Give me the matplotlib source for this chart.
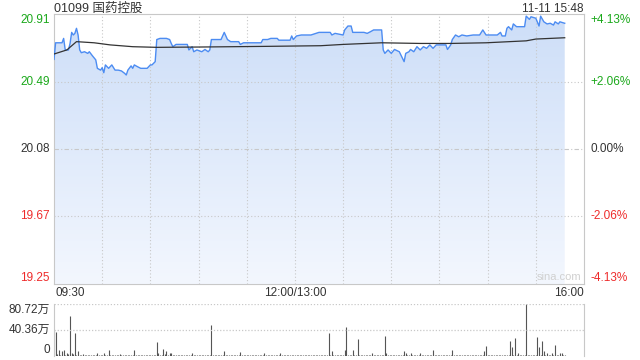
import numpy as np
import matplotlib
matplotlib.use("Agg")
import matplotlib.pyplot as plt
from matplotlib.colors import LinearSegmentedColormap

plt.rcParams['font.family'] = ['Liberation Sans', 'Noto Sans CJK SC', 'DejaVu Sans']

# --- data (minute index from 09:30, lunch break removed) ---
price_t = [0, 1, 5, 6, 7, 9, 10, 11, 12, 13, 14, 15, 16, 17, 19, 21, 22, 24, 26, 27,
           29, 30, 31, 32, 34, 36, 38, 40, 42, 44, 45, 46, 48, 49, 50, 52, 54, 58, 60, 61,
           63, 64, 66, 70, 72, 73, 74, 76, 83, 84, 86, 87, 89, 92, 94, 96, 97, 98, 104, 106,
           108, 110, 115, 116, 118, 129, 130, 133, 135, 139, 140, 147, 148, 149, 151, 154, 160, 165, 172, 173,
           175, 180, 181, 183, 185, 186, 193, 195, 197, 199, 204, 205, 206, 208, 210, 212, 215, 218, 219, 221,
           222, 224, 226, 228, 230, 232, 234, 236, 238, 244, 245, 247, 248, 250, 252, 254, 257, 261, 265, 267,
           269, 276, 278, 279, 281, 282, 283, 285, 286, 288, 293, 294, 296, 297, 300, 302, 303, 305, 307, 309,
           311, 312, 314, 315, 318]
price_v = [20.631, 20.733, 20.733, 20.760, 20.689, 20.689, 20.729, 20.797, 20.781, 20.791, 20.822, 20.781, 20.689, 20.672, 20.678, 20.668, 20.678, 20.652, 20.628, 20.576,
           20.565, 20.580, 20.549, 20.597, 20.576, 20.597, 20.565, 20.565, 20.560, 20.545, 20.535, 20.565, 20.591, 20.576, 20.597, 20.586, 20.576, 20.576, 20.597, 20.597,
           20.617, 20.753, 20.760, 20.760, 20.753, 20.729, 20.709, 20.723, 20.723, 20.689, 20.709, 20.678, 20.689, 20.678, 20.692, 20.678, 20.689, 20.753, 20.753, 20.797,
           20.753, 20.740, 20.740, 20.723, 20.733, 20.733, 20.753, 20.753, 20.760, 20.760, 20.749, 20.749, 20.775, 20.753, 20.775, 20.781, 20.781, 20.797, 20.797, 20.781,
           20.791, 20.781, 20.812, 20.836, 20.836, 20.797, 20.797, 20.791, 20.801, 20.812, 20.812, 20.689, 20.668, 20.689, 20.668, 20.692, 20.678, 20.617, 20.668, 20.678,
           20.692, 20.678, 20.709, 20.689, 20.709, 20.699, 20.720, 20.699, 20.720, 20.720, 20.692, 20.720, 20.753, 20.781, 20.770, 20.781, 20.775, 20.781, 20.781, 20.812,
           20.781, 20.781, 20.797, 20.775, 20.775, 20.822, 20.832, 20.812, 20.849, 20.832, 20.832, 20.897, 20.877, 20.893, 20.884, 20.836, 20.897, 20.862, 20.849, 20.853,
           20.842, 20.862, 20.849, 20.862, 20.853]

avg_t = [0, 8, 14, 25, 35, 49, 64, 91, 132, 166, 180, 204, 228, 247, 269, 294, 300, 318]
avg_v = [20.664, 20.689, 20.740, 20.733, 20.720, 20.709, 20.705, 20.707, 20.711, 20.715,
         20.723, 20.733, 20.729, 20.729, 20.733, 20.745, 20.756, 20.764]

# volume in 万 shares, one per minute 09:30 .. 15:48
volume = [
    39.3, 36.6, 3, 9.7, 2, 7, 9.7, 2, 4, 3, 61.9, 4, 3, 36, 2, 8, 2, 1, 3, 1,
    1.5, 1, 2, 1, 1.5, 1, 2, 4, 1, 2, 1, 5, 2, 1, 8.6, 1, 1, 1.5, 1, 2,
    1, 3, 1, 1, 1.5, 1, 2, 1, 1, 2, 8.6, 1, 1, 1.5, 1, 1, 2, 1, 1, 1.5,
    1, 1, 2, 1, 21.5, 4, 2, 1, 10.8, 3, 7, 2, 4, 5, 1, 1, 1.5, 1, 1, 1,
    1.5, 1, 1, 2, 1, 1, 4, 2, 1, 1.5, 1, 1, 1, 1, 1.5, 1, 1, 1, 47.4, 1,
    1, 1.5, 1, 1, 1, 1.5, 8, 2, 1, 1, 1.5, 1, 1, 1, 1, 1.5, 6, 2, 1, 1,
    1, 1.5, 1, 1, 1, 1, 1.5, 1, 1, 1, 1, 4, 1, 1, 1.5, 1, 1, 1, 1, 1,
    1.5, 4, 1, 1, 1, 1.5, 1, 1, 1, 1, 1.5, 1, 1, 1, 1, 1.5, 1, 1, 1, 1,
    1.5, 1, 1, 1, 1.5, 1, 1, 1, 1.5, 1, 1, 35, 2, 7, 1, 1, 1.5, 1, 1, 1,
    1.5, 9.7, 45.7, 2, 1, 1.5, 9.7, 2, 1, 26.4, 1, 1, 1.5, 1, 1, 1, 1.5, 1, 5.4, 1,
    1, 1.5, 1, 1, 1, 1.5, 31.2, 5, 1, 1, 1.5, 1, 1, 1, 1.5, 1, 1, 1, 8, 5,
    1, 2, 5, 1, 1.5, 1, 1, 1, 4, 1, 1, 1.5, 1, 1, 1, 1.5, 9.7, 1, 1, 1,
    1.5, 1, 1, 1, 1.5, 1, 1, 1, 8.6, 1, 1, 1.5, 1, 1, 1, 1.5, 1, 1, 1, 1,
    1.5, 1, 1, 1, 1, 1.5, 1, 1, 7, 15, 1, 1, 1.5, 1, 1, 1, 1.5, 1, 1, 1,
    1.5, 1, 1, 1, 23, 13.5, 1, 27.4, 1, 4, 1, 1.5, 1, 1, 80.72, 1, 1, 1, 1.5, 1,
    1, 29.6, 13.5, 1, 23, 7, 1, 4, 1, 1.5, 4, 1, 16.7, 1, 1.5, 5, 4, 1, 1,
]

prev_close = 20.08
price_ticks = [20.91, 20.49, 20.08, 19.67, 19.25]
pct_labels = ["+4.13%", "+2.06%", "0.00%", "-2.06%", "-4.13%"]
vol_ticks = [80.72, 40.36, 0]
vol_labels = ["80.72万", "40.36万", "0"]

GREEN = "#1aa81a"
RED = "#ee2b2b"
GRID = "#c8c8c8"
TXT = "#333333"

fig = plt.figure(figsize=(6.4, 3.6), dpi=100)
W, H = 640, 360
L, R = 54, 584
ax = fig.add_axes([L / W, 1 - 284 / H, (R - L) / W, 270 / H])
vax = fig.add_axes([L / W, 1 - 356 / H, (R - L) / W, 52 / H])

# ---- price panel ----
ax.set_xlim(0, 330)
ax.set_ylim(19.25, 20.91)
for v in price_ticks[1:-1]:
    ls = (0, (4, 2, 1, 2)) if v == prev_close else (0, (1, 2))
    ax.axhline(v, color=GRID, lw=0.8, ls=ls, zorder=3)
for m in range(30, 330, 30):
    ax.axvline(m, color=GRID, lw=0.8, ls=(0, (1, 2)), zorder=3)

# gradient fill under the price line
poly = ax.fill_between(price_t, price_v, 19.25, color="none", lw=0)
cmap = LinearSegmentedColormap.from_list("f", ["#f3f7fe", "#cddef8"])
grad = np.linspace(0, 1, 256).reshape(-1, 1)
img = ax.imshow(grad, cmap=cmap, aspect="auto", origin="lower",
                extent=[0, 330, 19.25, 20.91], zorder=2)
img.set_clip_path(poly.get_paths()[0], transform=ax.transData)

ax.plot(price_t, price_v, color="#4c8cf2", lw=1.0, zorder=4)
ax.plot(avg_t, avg_v, color="#333333", lw=0.9, zorder=5)

ax.set_xticks([])
ax.set_yticks([])
for s in ax.spines.values():
    s.set_color(GRID)
    s.set_linewidth(0.8)

for i, (v, p) in enumerate(zip(price_ticks, pct_labels)):
    c = GREEN if v > prev_close else (RED if v < prev_close else TXT)
    va = "top" if i == 0 else ("bottom" if i == len(price_ticks) - 1 else "center")
    ax.text(-0.008, v, f"{v:.2f}", transform=ax.get_yaxis_transform(),
            ha="right", va=va, color=c, fontsize=8.5)
    ax.text(1.012, v, p, transform=ax.get_yaxis_transform(),
            ha="left", va=va, color=c, fontsize=8.5)

ax.text(0.995, 19.265, "sina.com", ha="right", va="bottom", color="#d0d0d0",
        fontsize=8, transform=ax.get_yaxis_transform())

fig.text(L / W, 1 - 3 / H, "01099 国药控股", ha="left", va="top", color=TXT, fontsize=9)
fig.text(R / W, 1 - 3 / H, "11-11 15:48", ha="right", va="top", color=TXT, fontsize=8.5)

fig.text((L + 1) / W, 1 - 287 / H, "09:30", ha="left", va="top", color=TXT, fontsize=8.5)
fig.text((L + 150 / 330 * (R - L)) / W, 1 - 287 / H, "12:00/13:00", ha="center", va="top",
         color=TXT, fontsize=8.5)
fig.text(R / W, 1 - 287 / H, "16:00", ha="right", va="top", color=TXT, fontsize=8.5)

# ---- volume panel ----
vax.set_xlim(0, 330)
vax.set_ylim(0, 80.72)
vax.vlines(np.arange(len(volume)), 0, volume, color="#555555", lw=0.8)
for v in vol_ticks[:-1]:
    vax.axhline(v, color=GRID, lw=0.9, ls=(0, (1, 1.5)))
vax.set_xticks([])
vax.set_yticks([])
for k in ["top", "bottom"]:
    vax.spines[k].set_visible(False)
for k in ["left", "right"]:
    vax.spines[k].set_color(GRID)
    vax.spines[k].set_linewidth(0.8)

for i, (v, lab) in enumerate(zip(vol_ticks, vol_labels)):
    va = "top" if i == 0 else ("bottom" if i == len(vol_ticks) - 1 else "center")
    vax.text(-0.008, v, lab, transform=vax.get_yaxis_transform(),
             ha="right", va=va, color=TXT, fontsize=8.5)

fig.savefig("out.png", dpi=100)
